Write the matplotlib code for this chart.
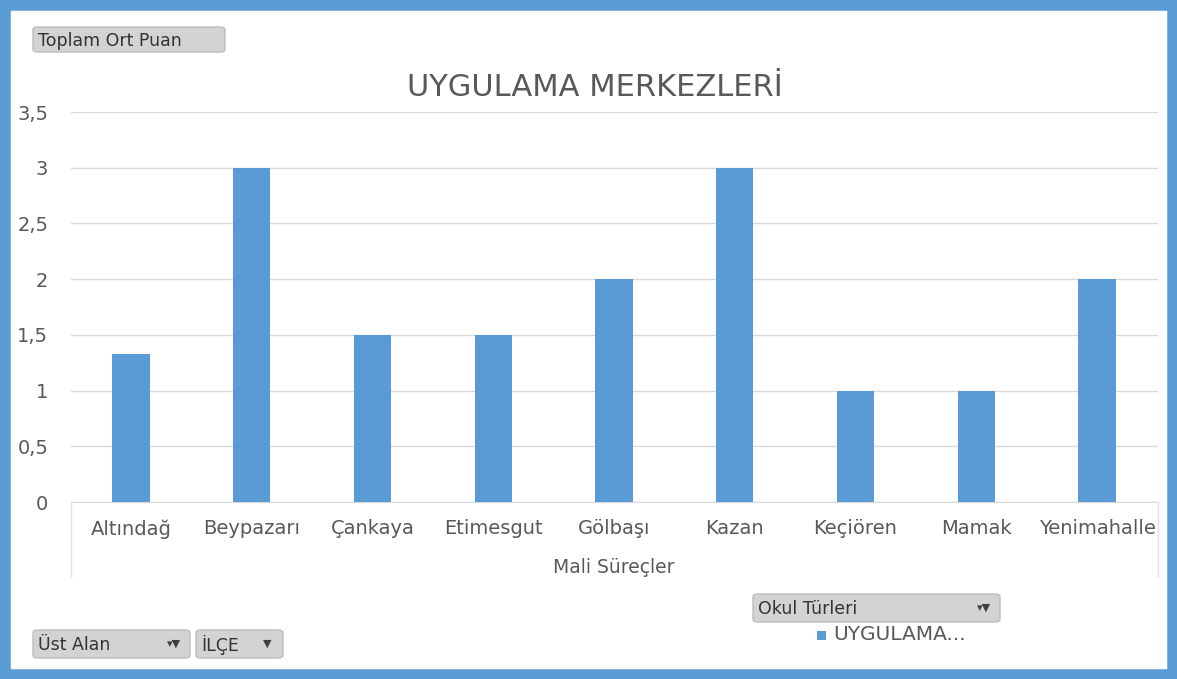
#!/usr/bin/env python3

import matplotlib

matplotlib.use("Agg")

import matplotlib.pyplot as plt
from matplotlib.lines import Line2D
from matplotlib.patches import FancyBboxPatch, Rectangle


CATEGORIES = ["Altındağ", "Beypazarı", "Çankaya", "Etimesgut", "Gölbaşı",
              "Kazan", "Keçiören", "Mamak", "Yenimahalle"]
VALUES = [1.33, 3, 1.5, 1.5, 2, 3, 1, 1, 2]
Y_TICKS = [0, 0.5, 1, 1.5, 2, 2.5, 3, 3.5]
Y_TICK_LABELS = ["0", "0,5", "1", "1,5", "2", "2,5", "3", "3,5"]

W, H = 1177, 679
BAR_COLOR = "#5B9BD5"
TEXT_COLOR = "#595959"
FONT = ["DejaVu Sans"]


def px(x, y):
    # pixel position (top-left origin) -> figure fraction
    return x / W, 1 - y / H


def add_button(fig, x0, y0, x1, y1, label, icon=None):
    fx, fy = px(x0, y1)
    box = FancyBboxPatch((fx, fy), (x1 - x0) / W, (y1 - y0) / H,
                         boxstyle="round,pad=0,rounding_size=0.004",
                         transform=fig.transFigure, facecolor="#D3D3D3",
                         edgecolor="#BDBDBD", linewidth=1.0)
    fig.patches.append(box)
    tx, ty = px(x0 + 5, (y0 + y1) / 2 + 1)
    fig.text(tx, ty, label, fontsize=12.5, color="#333333", va="center",
             ha="left", family=FONT)
    if icon:
        ix, iy = px(x1 - 16, (y0 + y1) / 2)
        fig.text(ix, iy, icon, fontsize=8, color="#404040", va="center",
                 ha="center", family=FONT)


def main():
    fig = plt.figure(figsize=(W / 100, H / 100), dpi=100)
    fig.patch.set_facecolor("white")

    # blue outer frame
    fig.patches.append(Rectangle((0.0035, 0.006), 0.993, 0.988, transform=fig.transFigure,
                                 fill=False, edgecolor="#5B9BD5", linewidth=9))

    left, right, top, bottom = 70.5, 1157.5, 112, 502
    ax = fig.add_axes([left / W, 1 - bottom / H, (right - left) / W, (bottom - top) / H])
    x = range(len(CATEGORIES))
    ax.bar(x, VALUES, width=0.31, color=BAR_COLOR, zorder=3)

    ax.set_xlim(-0.5, len(CATEGORIES) - 0.5)
    ax.set_ylim(0, 3.5)
    ax.set_yticks(Y_TICKS)
    ax.set_yticklabels(Y_TICK_LABELS)
    ax.set_xticks(list(x))
    ax.set_xticklabels(CATEGORIES)
    ax.grid(axis="y", color="#D9D9D9", linewidth=1.0, zorder=0)
    for side in ["top", "right", "left"]:
        ax.spines[side].set_visible(False)
    ax.spines["bottom"].set_color("#D9D9D9")
    ax.tick_params(axis="both", length=0, colors=TEXT_COLOR, labelsize=14)
    ax.tick_params(axis="y", pad=16)
    ax.tick_params(axis="x", pad=12.5)
    for lab in ax.get_xticklabels() + ax.get_yticklabels():
        lab.set_family(FONT)
    ax.set_xlabel("Mali Süreçler", fontsize=13.5, color=TEXT_COLOR, labelpad=14,
                  family=FONT)

    # category axis side lines
    for xp in (left, right):
        x0, y0 = px(xp, bottom)
        _, y1 = px(xp, 577)
        fig.add_artist(Line2D([x0, x0], [y0, y1], transform=fig.transFigure,
                              color="#E3E3E3", linewidth=1.0))

    tx, ty = px(595, 88)
    fig.text(tx, ty, "UYGULAMA MERKEZLERİ", fontsize=22, color=TEXT_COLOR,
             ha="center", va="center", family=FONT)

    add_button(fig, 33, 27, 225, 52, "Toplam Ort Puan")
    add_button(fig, 33, 630, 190, 658, "Üst Alan", icon="▾▼")
    add_button(fig, 196, 630, 283, 658, "İLÇE", icon="▼")
    add_button(fig, 753, 594, 1000, 622, "Okul Türleri", icon="▾▼")

    sx, sy = px(817, 640)
    fig.patches.append(Rectangle((sx, sy), 9 / W, 9 / H, transform=fig.transFigure,
                                 facecolor=BAR_COLOR, edgecolor="none"))
    lx, ly = px(833, 635)
    fig.text(lx, ly, "UYGULAMA...", fontsize=14.5, color=TEXT_COLOR, va="center",
             ha="left", family=FONT)

    fig.savefig("out.png", dpi=100)
    plt.close(fig)


if __name__ == "__main__":
    main()
